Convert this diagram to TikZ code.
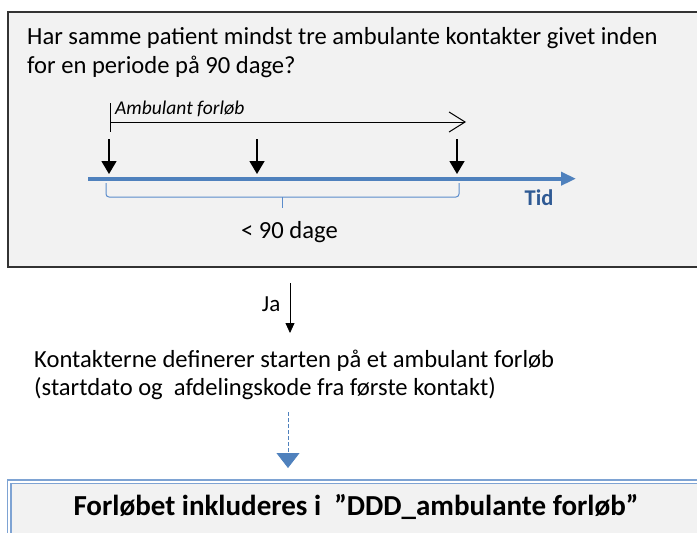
\documentclass[tikz,border=0pt]{standalone}
\usepackage{fontspec}
\setmainfont{Carlito}
\usetikzlibrary{arrows.meta,positioning}

\definecolor{boxgray}{HTML}{F2F2F2}
\definecolor{axisblue}{HTML}{4F81BD}
\definecolor{tidblue}{HTML}{2F5A94}
\definecolor{braceblue}{HTML}{5B8CCB}
\definecolor{frameblue}{HTML}{7EA3D3}

\tikzset{
  txt/.style={inner sep=0pt, align=left, font=\fontsize{24.6}{29}\selectfont},
  questbox/.style={draw=black!80, line width=1.3pt, fill=boxgray, inner sep=0pt, outer sep=0pt},
  inclbox/.style={draw=frameblue, double=white, double distance=2pt, line width=1.4pt, fill=boxgray, inner sep=0pt, outer sep=0pt},
  kontaktpil/.style={line width=1.5pt, -{Triangle[length=13pt,width=15pt]}},
  forloebpil/.style={line width=1pt, -{Straight Barb[length=16pt,width=20pt]}},
  tidsakse/.style={axisblue, line width=4pt, -{Triangle[length=15pt,width=13pt]}},
  klamme/.style={braceblue, line width=1pt, rounded corners=3pt}
}

\begin{document}
\begin{tikzpicture}[x=1pt,y=-1pt]
  \clip (0,0) rectangle (697,533);

  % spoergsmaal
  \node[questbox, anchor=north west, minimum width=720pt, minimum height=255pt] (spm) at (8,12) {};
  \node[txt, anchor=base west] (spmtekst) at (27,73.3)
    {Har samme patient mindst tre ambulante kontakter givet inden\\for en periode på 90 dage?};

  % tidslinje
  \coordinate (t0) at (88,178.7);
  \coordinate (t1) at (576,178.7);
  \draw[tidsakse] (t0) -- (t1);
  \node[font=\fontsize{22.5}{27}\selectfont\bfseries, text=tidblue, inner sep=0pt, anchor=base] (tid) at (539,205.7) {Tid};

  \foreach \k/\x in {1/109,2/257,3/457} {
      \coordinate (top\k) at (\x,139);
      \coordinate (k\k) at (\x,174);
      \draw[kontaktpil] (top\k) -- (k\k);
    }

  % ambulant forloeb
  \coordinate (a0) at (110,122);
  \coordinate (a1) at (466,122);
  \draw[line width=1pt] (110,103) -- (110,132);
  \draw[forloebpil] (a0) -- (a1);
  \node[font=\fontsize{19.5}{22}\selectfont\itshape, inner sep=0pt, anchor=base west] (amb) at (115,114) {Ambulant forløb};

  % klamme
  \draw[klamme] (106,183) -- (106,197) -- (459,197) -- (459,183);
  \coordinate (km) at (282,197);
  \draw[klamme] (km) -- ++(0,11);
  \node[txt, anchor=base] (dage) at (289.5,238) {< 90 dage};

  % ja
  \coordinate (ja0) at (290,283);
  \coordinate (ja1) at (290,333);
  \draw[line width=0.8pt, -{Triangle[length=10pt,width=9pt]}] (ja0) -- (ja1);
  \node[inner sep=0pt, font=\fontsize{23}{27}\selectfont, anchor=base east] (ja) at (280.5,311.7) {Ja};

  \node[txt, anchor=base west, font=\fontsize{24.6}{28}\selectfont] (start) at (34,395)
    {Kontakterne definerer starten på et ambulant forløb\\(startdato og\ \ afdelingskode fra første kontakt)};

  % inkluderes
  \node[inclbox, anchor=north west, minimum width=720pt, minimum height=90pt] (incl) at (9.2,481.7) {};
  \coordinate (d0) at (288,412);
  \coordinate (d1) at (288,468);
  \draw[axisblue, line width=0.8pt, dash pattern=on 4pt off 2pt, -{Triangle[length=15pt,width=23pt]}] (d0) -- (d1);
  \node[font=\fontsize{29}{34}\selectfont\bfseries, inner sep=0pt, anchor=base] (incltekst) at (356,515)
    {Forløbet inkluderes i\ \ ”DDD\_ambulante forløb”};
\end{tikzpicture}
\end{document}
